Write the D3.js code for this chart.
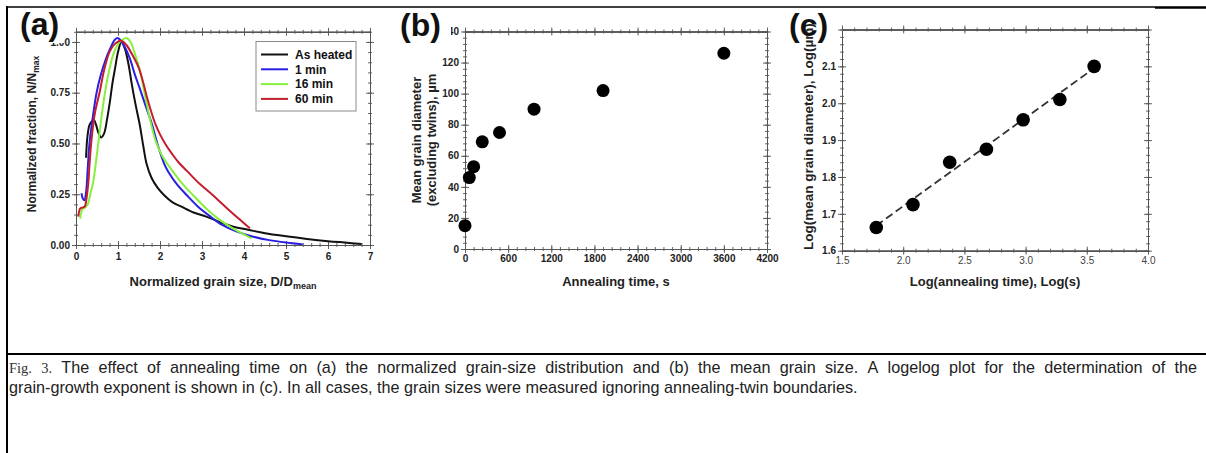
<!DOCTYPE html>
<html>
<head>
<meta charset="utf-8">
<script src="https://cdn.jsdelivr.net/npm/d3@7"></script>
<style>
  body { margin: 0; background: #fff; }
  svg { display: block; }
  text { font-family: "Liberation Sans", Arial, sans-serif; }
</style>
</head>
<body>
<div id="chart"></div>
<script>
// ---- panel (a): normalized grain size distribution ----
const seriesNames = ["As heated", "1 min", "16 min", "60 min"];
const asHeated = [[0.24,0.43],[0.27,0.53],[0.32,0.59],[0.38,0.61],[0.43,0.615],[0.48,0.59],[0.53,0.555],[0.6,0.53],[0.67,0.55],[0.74,0.62],[0.81,0.71],[0.87,0.8],[0.93,0.87],[1.0,0.95],[1.08,1.0],[1.16,0.97],[1.25,0.89],[1.33,0.79],[1.42,0.69],[1.52,0.59],[1.6,0.49],[1.68,0.4],[1.8,0.33],[1.95,0.28],[2.1,0.245],[2.3,0.21],[2.5,0.19],[2.8,0.16],[3.1,0.14],[3.4,0.115],[3.75,0.09],[4.1,0.075],[4.5,0.058],[5.0,0.043],[5.5,0.03],[6.0,0.019],[6.4,0.012],[6.8,0.005]];
const min1 = [[0.13,0.255],[0.16,0.23],[0.2,0.22],[0.24,0.26],[0.28,0.38],[0.32,0.5],[0.4,0.63],[0.49,0.75],[0.58,0.83],[0.7,0.91],[0.82,0.97],[0.92,1.01],[0.98,1.02],[1.06,1.01],[1.15,0.98],[1.28,0.92],[1.4,0.84],[1.52,0.77],[1.65,0.69],[1.8,0.6],[1.95,0.49],[2.1,0.4],[2.2,0.36],[2.4,0.3],[2.64,0.245],[2.9,0.19],[3.2,0.14],[3.47,0.1],[3.8,0.068],[4.2,0.042],[4.6,0.024],[5.0,0.012],[5.4,0.003]];
const min16 = [[0.1,0.13],[0.15,0.175],[0.22,0.185],[0.28,0.2],[0.35,0.26],[0.41,0.31],[0.47,0.4],[0.53,0.5],[0.6,0.62],[0.69,0.75],[0.79,0.86],[0.89,0.94],[1.0,0.99],[1.1,1.01],[1.2,1.02],[1.3,1.0],[1.42,0.93],[1.52,0.86],[1.64,0.74],[1.76,0.62],[1.9,0.51],[2.05,0.44],[2.28,0.37],[2.5,0.31],[2.79,0.245],[3.1,0.18],[3.35,0.135],[3.59,0.1],[3.85,0.068],[4.18,0.033]];
const min60 = [[0.055,0.14],[0.08,0.17],[0.1,0.18],[0.16,0.185],[0.21,0.19],[0.25,0.23],[0.29,0.3],[0.33,0.42],[0.37,0.52],[0.45,0.65],[0.56,0.75],[0.68,0.87],[0.81,0.956],[0.95,0.995],[1.09,1.005],[1.2,0.985],[1.36,0.93],[1.5,0.87],[1.6,0.8],[1.7,0.72],[1.8,0.65],[1.9,0.59],[2.0,0.545],[2.15,0.49],[2.3,0.445],[2.45,0.405],[2.64,0.365],[2.95,0.3],[3.26,0.245],[3.6,0.18],[3.9,0.125],[4.14,0.082]];
const xTicksA = [0, 1, 2, 3, 4, 5, 6, 7];
const yTicksA = [0, 0.25, 0.5, 0.75, 1.0];

// ---- panel (b): mean grain size vs time ----
const timeB = [0, 60, 120, 240, 480, 960, 1920, 3600];
const diamB = [15, 46, 53, 69, 75, 90, 102, 126];
const xTicksB = [0, 600, 1200, 1800, 2400, 3000, 3600, 4200];
const yTicksB = [0, 20, 40, 60, 80, 100, 120, 140];

// ---- panel (c): log-log ----
const logTime = [1.78, 2.08, 2.38, 2.68, 2.98, 3.28, 3.56];
const logDiam = [1.663, 1.725, 1.84, 1.875, 1.955, 2.01, 2.10];
const fitX = [1.78, 3.56];
const fitY = [1.668, 2.095];
const xTicksC = [1.5, 2.0, 2.5, 3.0, 3.5, 4.0];
const yTicksC = [1.6, 1.7, 1.8, 1.9, 2.0, 2.1];

const theme = {
  axis: "#555",
  label: "#222",
  lines: ["#111111", "#2a1fe0", "#86f03c", "#c41e2e"],
};

const width = 1206, height = 453;
const svg = d3.select("#chart").append("svg")
  .attr("width", width).attr("height", height);

svg.append("defs").append("clipPath").attr("id", "frameClip")
  .append("rect").attr("x", 7).attr("y", 8).attr("width", width).attr("height", height);

const fig = svg.append("g").attr("clip-path", "url(#frameClip)");

//draws a closed box with ticks crossing each side
const boxAxes = (g, x, y, o) => {
  const [x0, x1] = x.range();
  const [y0, y1] = y.range();
  const sides = [
    { out: d3.axisBottom, inn: d3.axisTop, s: x, t: `translate(0,${y0})`, major: o.xMajor, minor: o.xMinor },
    { out: d3.axisTop, inn: d3.axisBottom, s: x, t: `translate(0,${y1})`, major: o.xMajor, minor: o.xMinor },
    { out: d3.axisLeft, inn: d3.axisRight, s: y, t: `translate(${x0},0)`, major: o.yMajor, minor: o.yMinor },
    { out: d3.axisRight, inn: d3.axisLeft, s: y, t: `translate(${x1},0)`, major: o.yMajor, minor: o.yMinor },
  ];
  sides.forEach((sd) => {
    [[sd.minor, 2], [sd.major, 4]].forEach(([vals, len]) => {
      [sd.out, sd.inn].forEach((fn) => {
        const a = g.append("g").attr("transform", sd.t)
          .call(fn(sd.s).tickValues(vals).tickSize(len).tickSizeOuter(0).tickFormat(""));
        a.select(".domain").attr("stroke", theme.axis).attr("stroke-width", 1);
        a.selectAll("line").attr("stroke", theme.axis).attr("stroke-width", 0.9);
      });
    });
  });
  const xl = g.append("g").attr("transform", `translate(0,${y0})`)
    .call(d3.axisBottom(x).tickValues(o.xLabels).tickSize(0).tickPadding(o.xPad).tickFormat(o.xFmt));
  xl.select(".domain").remove();
  xl.selectAll("text").attr("fill", o.xColor || theme.label)
    .style("font-size", "10px").style("font-weight", o.xWeight || "bold")
    .style("font-family", '"Liberation Sans", Arial, sans-serif');
  const yl = g.append("g").attr("transform", `translate(${x0},0)`)
    .call(d3.axisLeft(y).tickValues(o.yLabels).tickSize(0).tickPadding(6).tickFormat(o.yFmt));
  yl.select(".domain").remove();
  yl.selectAll("text").attr("fill", theme.label)
    .style("font-size", "10px").style("font-weight", "bold")
    .style("font-family", '"Liberation Sans", Arial, sans-serif');
};

const panelLabel = (g, txt, x, y, mask) => {
  if (mask) {
    g.append("rect").attr("x", mask[0]).attr("y", mask[1])
      .attr("width", mask[2]).attr("height", mask[3]).attr("fill", "#fff");
  }
  g.append("text").attr("x", x).attr("y", y).text(txt)
    .attr("fill", "#111").style("font-size", "32px").style("font-weight", "bold");
};

//////////////// panel (a) ////////////////
const xA = d3.scaleLinear().domain([0, 7]).range([76, 370]);
const yA = d3.scaleLinear().domain([0, 1.05]).range([245, 31.8]);
const gA = fig.append("g");
boxAxes(gA, xA, yA, {
  xMajor: xTicksA, xMinor: d3.range(0, 7.01, 0.2),
  yMajor: yTicksA, yMinor: d3.range(0, 1.051, 0.05),
  xLabels: xTicksA, xFmt: d3.format("d"), xPad: 8,
  yLabels: yTicksA, yFmt: d3.format(".2f"),
});
gA.append("clipPath").attr("id", "clipA").append("rect")
  .attr("x", 76).attr("y", 31.8).attr("width", 294).attr("height", 213.2);
const lineA = d3.line().x((d) => xA(d[0])).y((d) => yA(d[1]))
  .curve(d3.curveCatmullRom.alpha(0.5));
[asHeated, min1, min16, min60].forEach((s, i) => {
  gA.append("path").attr("d", lineA(s)).attr("fill", "none")
    .attr("clip-path", "url(#clipA)")
    .attr("stroke", theme.lines[i]).attr("stroke-width", 2)
    .attr("stroke-linejoin", "round");
});
// legend
const leg = gA.append("g");
leg.append("rect").attr("x", 256).attr("y", 41.5).attr("width", 100).attr("height", 69.5)
  .attr("fill", "#fff").attr("stroke", "#8a8a8a").attr("stroke-width", 1);
seriesNames.forEach((n, i) => {
  const yy = 54.5 + i * 14.8;
  leg.append("line").attr("x1", 261).attr("x2", 288).attr("y1", yy).attr("y2", yy)
    .attr("stroke", theme.lines[i]).attr("stroke-width", 2);
  leg.append("text").attr("x", 295).attr("y", yy).attr("dy", "0.35em").text(n)
    .attr("fill", "#111").style("font-size", "12px").style("font-weight", "bold");
});
panelLabel(gA, "(a)", 20, 35, [17, 9, 47, 34]);
gA.append("text")
  .attr("transform", `translate(36,134) rotate(-90)`)
  .attr("text-anchor", "middle").attr("fill", theme.label)
  .style("font-size", "12px").style("font-weight", "bold")
  .call((t) => {
    t.append("tspan").text("Normalized fraction, N/N");
    t.append("tspan").attr("dy", 3).style("font-size", "8.5px").text("max");
  });
gA.append("text").attr("x", 223).attr("y", 286).attr("text-anchor", "middle")
  .attr("fill", theme.label).style("font-size", "13px").style("font-weight", "bold")
  .call((t) => {
    t.append("tspan").text("Normalized grain size, D/D");
    t.append("tspan").attr("dy", 3).style("font-size", "9px").text("mean");
  });

//////////////// panel (b) ////////////////
const xB = d3.scaleLinear().domain([0, 4200]).range([465, 767]);
const yB = d3.scaleLinear().domain([0, 140]).range([249, 31.5]);
const gB = fig.append("g");
boxAxes(gB, xB, yB, {
  xMajor: xTicksB, xMinor: d3.range(0, 4201, 120),
  yMajor: yTicksB, yMinor: d3.range(0, 141, 4),
  xLabels: xTicksB, xFmt: d3.format("d"), xPad: 6,
  yLabels: yTicksB, yFmt: d3.format("d"),
});
gB.selectAll(null).data(timeB).join("circle")
  .attr("cx", (d) => xB(d)).attr("cy", (d, i) => yB(diamB[i]))
  .attr("r", 6.5).attr("fill", "#000");
gB.append("text").attr("transform", "translate(416,140) rotate(-90)")
  .attr("text-anchor", "middle").attr("dy", "0.35em").attr("fill", theme.label)
  .style("font-size", "13px").style("font-weight", "bold").text("Mean grain diameter");
gB.append("text").attr("transform", "translate(431,140) rotate(-90)")
  .attr("text-anchor", "middle").attr("dy", "0.35em").attr("fill", theme.label)
  .style("font-size", "13px").style("font-weight", "bold").text("(excluding twins), \u00b5m");
gB.append("text").attr("x", 616).attr("y", 286).attr("text-anchor", "middle")
  .attr("fill", theme.label).style("font-size", "13px").style("font-weight", "bold")
  .text("Annealing time, s");
panelLabel(gB, "(b)", 400, 36, [397, 9, 54, 34]);

//////////////// panel (c) ////////////////
const xC = d3.scaleLinear().domain([1.5, 4.0]).range([842, 1148]);
const yC = d3.scaleLinear().domain([1.6, 2.2]).range([250.7, 29.5]);
const gC = fig.append("g");
boxAxes(gC, xC, yC, {
  xMajor: xTicksC, xMinor: d3.range(1.5, 4.01, 0.1),
  yMajor: yTicksC.concat([2.2]), yMinor: d3.range(1.6, 2.201, 0.02),
  xLabels: xTicksC, xFmt: d3.format(".1f"), xPad: 6, xWeight: "normal", xColor: "#444",
  yLabels: yTicksC, yFmt: d3.format(".1f"),
});
gC.append("path")
  .attr("d", d3.line()(fitX.map((v, i) => [xC(v), yC(fitY[i])])))
  .attr("stroke", "#333").attr("stroke-width", 1.8).attr("fill", "none")
  .attr("stroke-dasharray", "8,4");
gC.selectAll(null).data(logTime).join("circle")
  .attr("cx", (d) => xC(d)).attr("cy", (d, i) => yC(logDiam[i]))
  .attr("r", 6.8).attr("fill", "#000");
gC.append("text").attr("transform", "translate(813,250) rotate(-90)")
  .attr("text-anchor", "start").attr("fill", theme.label)
  .style("font-size", "13.5px").style("font-weight", "bold")
  .text("Log(mean grain diameter), Log(\u00b5m)");
panelLabel(gC, "(c)", 789, 36, null);
gC.append("text").attr("x", 995).attr("y", 286).attr("text-anchor", "middle")
  .attr("fill", theme.label).style("font-size", "13px").style("font-weight", "bold")
  .text("Log(annealing time), Log(s)");

//////////////// frame + caption ////////////////
svg.append("line").attr("x1", 6).attr("x2", 1155).attr("y1", 7).attr("y2", 7)
  .attr("stroke", "#000").attr("stroke-width", 1.5);
svg.append("line").attr("x1", 1155).attr("x2", 1206).attr("y1", 7.5).attr("y2", 7.5)
  .attr("stroke", "#000").attr("stroke-width", 2.5);
svg.append("line").attr("x1", 7).attr("x2", 7).attr("y1", 6.3).attr("y2", height)
  .attr("stroke", "#000").attr("stroke-width", 2);
svg.append("line").attr("x1", 6).attr("x2", width).attr("y1", 354).attr("y2", 354)
  .attr("stroke", "#000").attr("stroke-width", 2);

const captionHead = "Fig. 3.";
const caption1 = "The effect of annealing time on (a) the normalized grain-size distribution and (b) the mean grain size. A logelog plot for the determination of the";
const caption2 = "grain-growth exponent is shown in (c). In all cases, the grain sizes were measured ignoring annealing-twin boundaries.";
const capSize = "16.2px";
// first line is justified: place each word, spreading the gaps evenly
const cap1 = svg.append("text").attr("y", 373).attr("fill", "#222").style("font-size", capSize);
const words = captionHead.split(" ").map((w) => ({ w, serif: true }))
  .concat(caption1.split(" ").map((w) => ({ w, serif: false })));
const spans = words.map((d) => {
  const s = cap1.append("tspan").text(d.w);
  if (d.serif) {
    s.style("font-family", '"Liberation Serif", "Times New Roman", serif')
      .style("font-size", "14.5px").attr("fill", "#333");
  }
  return s;
});
const widths = spans.map((s) => s.node().getComputedTextLength());
const left = 9, right = 1197;
const gap = Math.max(2, (right - left - d3.sum(widths)) / (spans.length - 1));
let cx = left;
spans.forEach((s, i) => {
  s.attr("x", cx);
  cx += widths[i] + gap;
});
svg.append("text").attr("x", left).attr("y", 393)
  .attr("fill", "#222").style("font-size", capSize).text(caption2);
</script>
</body>
</html>
